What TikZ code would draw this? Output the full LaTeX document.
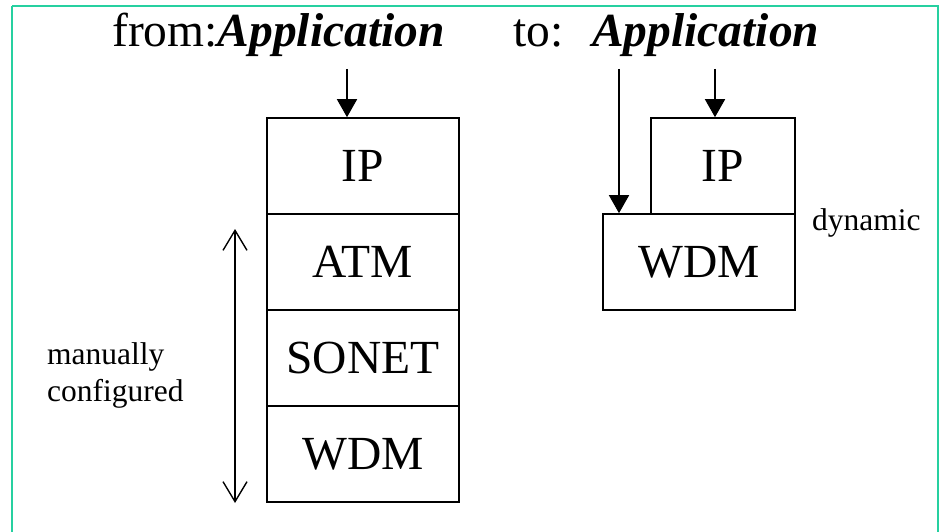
\documentclass[tikz,border=0pt]{standalone}
\usepackage{fontspec}
\setmainfont{Liberation Serif}
\usetikzlibrary{arrows.meta}
\definecolor{frameteal}{RGB}{38,208,160}
\tikzset{
  layer/.style={draw, line width=1.6pt, inner sep=0pt, minimum height=96pt,
    font=\fontsize{47.5}{57}\selectfont},
  bigtext/.style={inner sep=0pt, anchor=base west, font=\fontsize{47.5}{57}\selectfont},
  smalltext/.style={inner sep=0pt, font=\fontsize{31.5}{37}\selectfont},
  feed/.style={line width=1.6pt, -{Triangle[length=18pt,width=20pt]}},
  span/.style={line width=1.4pt, {Straight Barb[length=20pt,width=24pt]}-{Straight Barb[length=20pt,width=24pt]}}
}
\begin{document}
\begin{tikzpicture}[x=1pt,y=-1pt]
\useasboundingbox (0,0) rectangle (948,532);
\draw[frameteal, line width=2.2pt] (12,6) -- (938,6) -- (938,545) (12,6) -- (12,545);
% titles
\node[bigtext] (from) at (112,47) {from:\textbf{\textit{Application}}};
\node[bigtext] (to) at (513,47) {to:};
\node[bigtext] (app) at (592,47) {\textbf{\textit{Application}}};
% left stack
\node[layer, minimum width=192pt] (ipl) at (363,166) {IP};
\node[layer, minimum width=192pt] (atm) at (363,262) {ATM};
\node[layer, minimum width=192pt] (sonet) at (363,358) {SONET};
\node[layer, minimum width=192pt] (wdml) at (363,454) {WDM};
% right stack
\node[layer, minimum width=144pt] (ipr) at (723,166) {IP};
\node[layer, minimum width=192pt] (wdmr) at (699,262) {WDM};
% labels
\node[smalltext, align=left, anchor=west] (manual) at (47,375) {manually\\configured};
\node[smalltext, anchor=base west] (dyn) at (812,230) {dynamic};
% connectors
\coordinate (s1) at (347,69);
\coordinate (s2) at (619,69);
\coordinate (s3) at (715,69);
\draw[feed] (s1) -- (s1 |- ipl.north);
\draw[feed] (s2) -- (s2 |- wdmr.north);
\draw[feed] (s3) -- (s3 |- ipr.north);
\coordinate (u) at (235,229);
\coordinate (d) at (235,503);
\draw[span] (u) -- (d);
\end{tikzpicture}
\end{document}
